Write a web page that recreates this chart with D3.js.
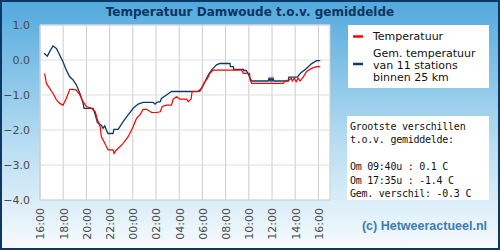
<!DOCTYPE html>
<html>
<head>
<meta charset="utf-8">
<script src="https://cdn.jsdelivr.net/npm/d3@7"></script>
<style>
  body { margin: 0; }
  svg { display: block; }
</style>
</head>
<body>
<svg width="500" height="250"></svg>
<script>

// Data: tijden (HH:MM) en afwijking t.o.v. gemiddelde in graden.

var tijdTemp = ["16:24","16:33","16:50","17:07","17:25","17:42","17:59","18:16","18:34","18:51","19:08","19:26","19:43","20:00","20:26","20:46","20:57","21:11","21:17","21:35","21:52","22:18","22:23","22:35","22:53","23:10","23:36","00:02","00:19","00:37","00:53","01:11","01:37","02:02","02:22","02:32","02:54","03:20","03:29","03:46","04:04","04:38","04:47","05:01","05:07","05:47","05:59","06:13","06:27","06:39","06:56","09:23","09:32","10:04","10:06","10:15","12:59","13:07","13:30","13:40","13:45","13:55","14:05","14:15","14:25","14:42","14:59","15:24","15:50","16:10"];
var temp = [-0.38,-0.67,-0.81,-0.95,-1.14,-1.24,-1.29,-1.1,-0.84,-0.84,-0.86,-1.0,-1.19,-1.33,-1.38,-1.48,-1.71,-1.9,-2.19,-2.38,-2.57,-2.57,-2.67,-2.57,-2.48,-2.38,-2.19,-1.9,-1.67,-1.57,-1.41,-1.41,-1.5,-1.5,-1.48,-1.33,-1.29,-1.29,-1.12,-1.05,-1.12,-1.12,-1.19,-1.12,-0.9,-0.9,-0.76,-0.62,-0.52,-0.38,-0.29,-0.29,-0.38,-0.38,-0.57,-0.67,-0.67,-0.6,-0.57,-0.52,-0.6,-0.52,-0.62,-0.52,-0.6,-0.48,-0.33,-0.24,-0.19,-0.19];

var tijdGem = ["16:21","16:38","16:50","17:07","17:25","17:42","17:59","18:16","18:34","18:51","19:08","19:26","19:43","19:48","20:35","20:46","20:57","21:17","21:26","21:35","21:43","21:52","22:18","22:22","22:44","23:10","23:36","00:02","00:28","00:53","01:45","01:55","02:05","02:22","02:28","02:54","03:20","05:38","05:56","06:13","06:30","06:47","07:13","07:31","08:23","08:25","08:40","08:42","09:32","09:34","09:47","10:06","10:15","11:40","11:45","11:50","11:55","12:00","12:05","12:10","13:25","13:27","14:11","14:27","14:58","15:24","15:50","16:10"];
var gem = [0.19,0.11,0.24,0.40,0.33,0.14,-0.05,-0.29,-0.48,-0.57,-0.71,-0.95,-1.24,-1.38,-1.38,-1.57,-1.79,-1.86,-1.95,-1.88,-2.0,-2.1,-2.1,-1.98,-1.98,-1.76,-1.57,-1.38,-1.26,-1.21,-1.21,-1.26,-1.21,-1.19,-1.1,-1.0,-0.9,-0.9,-0.81,-0.62,-0.43,-0.29,-0.14,-0.1,-0.1,-0.19,-0.19,-0.27,-0.27,-0.3,-0.3,-0.5,-0.6,-0.6,-0.52,-0.6,-0.52,-0.6,-0.52,-0.6,-0.6,-0.49,-0.49,-0.38,-0.24,-0.11,-0.02,-0.02];

var yTicks = [1, 0, -1, -2, -3, -4];
var legendaTemp = ["Temperatuur"];
var legendaGem = ["Gem. temperatuur", "van 11 stations", "binnen 25 km"];
var statsRegels = ["Grootste verschillen", "t.o.v. gemiddelde:", "", "Om 09:40u : 0.1 C", "Om 17:35u : -1.4 C", "Gem. verschil: -0.3 C"];

// Tijden omzetten naar datums, met overgang naar de volgende dag.
function naarDatums(tijden) {
  var dag = 0, vorige = -1;
  return tijden.map(function(t) {
    var p = t.split(":"), min = +p[0] * 60 + +p[1];
    if (min < vorige) dag++;
    vorige = min;
    return new Date(2024, 0, 1 + dag, +p[0], +p[1]);
  });
}

var svg = d3.select("svg"),
    margin = { top: 25, right: 170, bottom: 50, left: 40 },
    width = 290,
    height = 175;

// Achtergrond met verloop
var defs = svg.append("defs");
var grad = defs.append("linearGradient")
    .attr("id", "bg")
    .attr("x1", 0).attr("y1", 0).attr("x2", 0).attr("y2", 1);
grad.append("stop").attr("offset", "0%").attr("stop-color", "#52a9dd");
grad.append("stop").attr("offset", "55%").attr("stop-color", "#b4dbf1");
grad.append("stop").attr("offset", "100%").attr("stop-color", "#f7fbfe");

svg.append("rect")
    .attr("x", 1).attr("y", 1)
    .attr("width", 498).attr("height", 248)
    .attr("fill", "url(#bg)")
    .attr("stroke", "#0c3866")
    .attr("stroke-width", 2);

svg.append("text")
    .attr("x", 250)
    .attr("y", 16)
    .attr("text-anchor", "middle")
    .style("font-family", "DejaVu Sans")
    .style("font-weight", "bold")
    .style("font-size", "12px")
    .style("fill", "#0d3560")
    .text("Temperatuur Damwoude t.o.v. gemiddelde");

var x = d3.scaleTime()
    .domain([new Date(2024, 0, 1, 16), new Date(2024, 0, 2, 17)])
    .range([0, width]);
var y = d3.scaleLinear().domain([-4, 1]).range([height, 0]);

var g = svg.append("g")
    .attr("transform", "translate(" + margin.left + "," + margin.top + ")");

g.append("rect")
    .attr("width", width)
    .attr("height", height)
    .attr("fill", "#fff")
    .attr("stroke", "#cccccc");

// Rasterlijnen
var xTicks = x.ticks(d3.timeHour.every(2));

g.selectAll(".vgrid")
  .data(xTicks)
  .enter().append("line")
    .attr("x1", function(d) { return x(d); })
    .attr("x2", function(d) { return x(d); })
    .attr("y1", 0)
    .attr("y2", height)
    .attr("stroke", "#cccccc");

g.selectAll(".hgrid")
  .data(yTicks)
  .enter().append("line")
    .attr("x1", 0)
    .attr("x2", width)
    .attr("y1", function(d) { return y(d); })
    .attr("y2", function(d) { return y(d); })
    .attr("stroke", "#dddddd");

// Assen (alleen labels)
var yAxis = g.append("g")
    .call(d3.axisLeft(y).tickValues(yTicks).tickFormat(d3.format(".1f")).tickSize(0).tickPadding(10));
yAxis.select(".domain").remove();
yAxis.selectAll("text")
    .style("font-family", "DejaVu Sans")
    .style("font-size", "11px")
    .style("fill", "#4a4a4a");

var xAxis = g.append("g")
    .attr("transform", "translate(0," + height + ")")
    .call(d3.axisBottom(x).tickValues(xTicks).tickFormat(d3.timeFormat("%H:%M")).tickSize(0));
xAxis.select(".domain").remove();
xAxis.selectAll("text")
    .attr("transform", "rotate(-90)")
    .attr("x", -8)
    .attr("y", 0)
    .attr("dy", "0.35em")
    .style("text-anchor", "end")
    .style("font-family", "DejaVu Sans")
    .style("font-size", "11px")
    .style("fill", "#4a4a4a");

// Lijnen
var tempData = naarDatums(tijdTemp).map(function(d, i) { return [d, temp[i]]; });
var gemData = naarDatums(tijdGem).map(function(d, i) { return [d, gem[i]]; });

var line = d3.line()
    .x(function(d) { return x(d[0]); })
    .y(function(d) { return y(d[1]); });

g.append("path")
    .datum(gemData)
    .attr("fill", "none")
    .attr("stroke", "#0d3a66")
    .attr("stroke-width", 1.3)
    .attr("d", line);

g.append("path")
    .datum(tempData)
    .attr("fill", "none")
    .attr("stroke", "#ff0000")
    .attr("stroke-width", 1.2)
    .attr("d", line);

// Legenda
svg.append("rect")
    .attr("x", 348).attr("y", 25)
    .attr("width", 141).attr("height", 63)
    .attr("fill", "#fff");

svg.append("line")
    .attr("x1", 353).attr("x2", 363)
    .attr("y1", 36.5).attr("y2", 36.5)
    .attr("stroke", "#ff0000").attr("stroke-width", 2.5);
svg.append("line")
    .attr("x1", 353).attr("x2", 363)
    .attr("y1", 64).attr("y2", 64)
    .attr("stroke", "#0d3a66").attr("stroke-width", 2.5);

svg.selectAll(".leg1")
  .data(legendaTemp)
  .enter().append("text")
    .attr("x", 373)
    .attr("y", 39.5)
    .style("font-family", "DejaVu Sans")
    .style("font-size", "11px")
    .style("fill", "#111")
    .text(function(d) { return d; });

svg.selectAll(".leg2")
  .data(legendaGem)
  .enter().append("text")
    .attr("x", 373)
    .attr("y", function(d, i) { return 57 + i * 12; })
    .style("font-family", "DejaVu Sans")
    .style("font-size", "11px")
    .style("fill", "#111")
    .text(function(d) { return d; });

// Grootste verschillen
svg.append("rect")
    .attr("x", 347).attr("y", 116)
    .attr("width", 142).attr("height", 84)
    .attr("fill", "#fff");

svg.selectAll(".stats")
  .data(statsRegels)
  .enter().append("text")
    .attr("x", 350)
    .attr("y", function(d, i) { return 129.5 + i * 13.5; })
    .style("font-family", "DejaVu Sans Mono")
    .style("font-size", "10px")
    .style("letter-spacing", "-0.25px")
    .style("fill", "#111")
    .text(function(d) { return d; });

svg.append("text")
    .attr("x", 487)
    .attr("y", 229.5)
    .attr("text-anchor", "end")
    .style("font-family", "Liberation Sans")
    .style("font-weight", "bold")
    .style("font-size", "12.5px")
    .style("fill", "#3a7db5")
    .text("(c) Hetweeractueel.nl");

</script>
</body>
</html>
